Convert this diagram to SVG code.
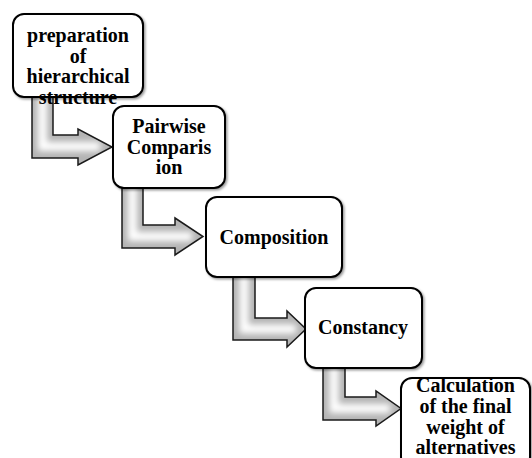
<svg xmlns="http://www.w3.org/2000/svg" width="532" height="458" viewBox="0 0 532 458">
<style>
.box{fill:#fff;stroke:#000;stroke-width:2}
.t{font-family:"Liberation Serif","Times New Roman",serif;font-weight:bold;font-size:20px;fill:#000;text-anchor:middle}
.arr{fill:#b4b4b4}
.edge{fill:none;stroke:#1a1a1a;stroke-width:1.5;stroke-linejoin:miter}
.glow{fill:none;stroke:#fff;stroke-width:9;filter:url(#blur)}
</style>
<defs>
<filter id="blur" x="-20%" y="-20%" width="140%" height="140%"><feGaussianBlur stdDeviation="3"/></filter>
<filter id="sh" x="-10%" y="-10%" width="130%" height="130%"><feDropShadow dx="1.5" dy="1.5" stdDeviation="1" flood-color="#000" flood-opacity="0.4"/></filter>
<path id="p1" d="M32,97 L53,97 L53,135 L78,135 L78,129 L112,147 L78,165 L78,158 L32,158 Z"/>
<path id="p2" d="M122,188 L143,188 L143,225 L175,225 L175,218 L203,236.5 L175,255 L175,248 L122,248 Z"/>
<path id="p3" d="M233,277 L255,277 L255,318 L287,318 L287,311 L306,329 L287,347 L287,340 L233,340 Z"/>
<path id="p4" d="M323,368 L345,368 L345,397 L376,397 L376,391 L401,408.5 L376,426 L376,420 L323,420 Z"/>
<clipPath id="c1"><use href="#p1"/></clipPath>
<clipPath id="c2"><use href="#p2"/></clipPath>
<clipPath id="c3"><use href="#p3"/></clipPath>
<clipPath id="c4"><use href="#p4"/></clipPath>
</defs>
<g id="connectors">
<g id="arrow1">
<use href="#p1" class="arr"/>
<path class="glow" clip-path="url(#c1)" d="M42.5,90 L42.5,146.5 L100,146.5"/>
<use href="#p1" class="edge"/>
</g>
<g id="arrow2">
<use href="#p2" class="arr"/>
<path class="glow" clip-path="url(#c2)" d="M132.5,180 L132.5,236.5 L192,236.5"/>
<use href="#p2" class="edge"/>
</g>
<g id="arrow3">
<use href="#p3" class="arr"/>
<path class="glow" clip-path="url(#c3)" d="M244,270 L244,329 L296,329"/>
<use href="#p3" class="edge"/>
</g>
<g id="arrow4">
<use href="#p4" class="arr"/>
<path class="glow" clip-path="url(#c4)" d="M334,360 L334,408.5 L390,408.5"/>
<use href="#p4" class="edge"/>
</g>
</g>
<g id="node1">
<rect class="box" filter="url(#sh)" x="13" y="14" width="130" height="83" rx="11"/>
<text class="t" x="78" y="42">preparation</text>
<text class="t" x="78" y="62.5">of</text>
<text class="t" x="78" y="83">hierarchical</text>
<text class="t" x="78" y="103.5">structure</text>
</g>
<g id="node2">
<rect class="box" filter="url(#sh)" x="113" y="106" width="112" height="82" rx="11"/>
<text class="t" x="169" y="133">Pairwise</text>
<text class="t" x="169" y="154">Comparis</text>
<text class="t" x="169" y="174">ion</text>
</g>
<g id="node3">
<rect class="box" filter="url(#sh)" x="206" y="197" width="136" height="80" rx="11"/>
<text class="t" x="274" y="244">Composition</text>
</g>
<g id="node4">
<rect class="box" filter="url(#sh)" x="305" y="288" width="117" height="80" rx="11"/>
<text class="t" x="363" y="334">Constancy</text>
</g>
<g id="node5">
<rect class="box" filter="url(#sh)" x="401" y="378" width="129" height="90" rx="11"/>
<text class="t" x="465.5" y="392">Calculation</text>
<text class="t" x="465.5" y="413">of the final</text>
<text class="t" x="465.5" y="433.5">weight of</text>
<text class="t" x="465.5" y="454">alternatives</text>
</g>
</svg>
